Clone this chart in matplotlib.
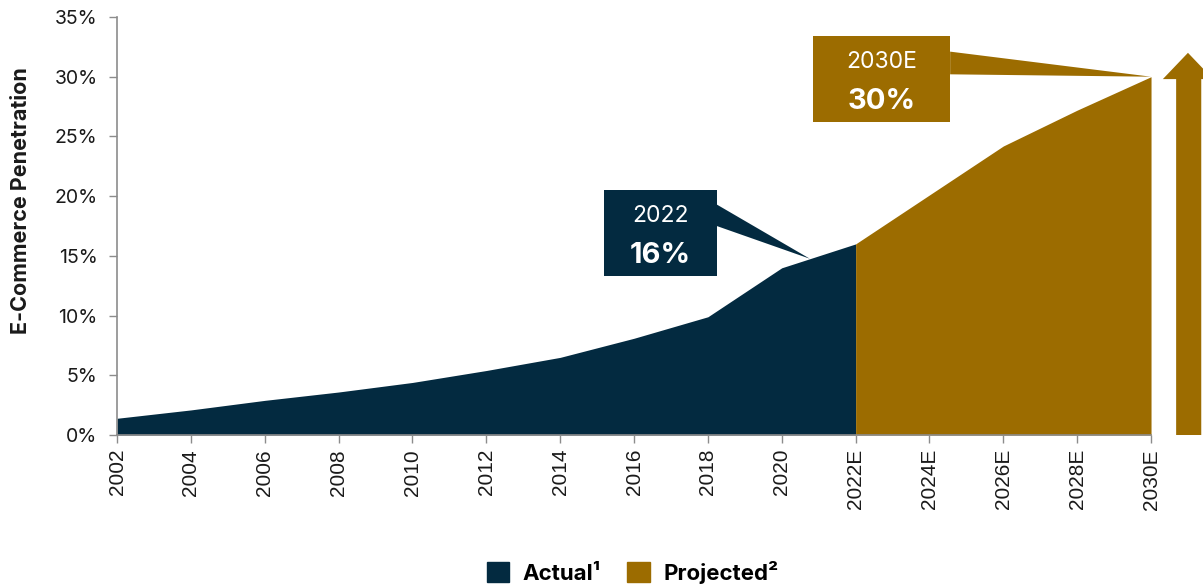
import numpy as np
import matplotlib
matplotlib.use("Agg")
import matplotlib.pyplot as plt
from matplotlib.patches import Patch, Polygon, Rectangle

# e-commerce penetration, % of retail sales
actual_years = ["2002", "2004", "2006", "2008", "2010", "2012", "2014", "2016", "2018", "2020", "2022E"]
actual_vals = [1.4, 2.1, 2.9, 3.6, 4.4, 5.4, 6.5, 8.1, 9.9, 14.0, 16.0]
proj_years = ["2022E", "2024E", "2026E", "2028E", "2030E"]
proj_vals = [16.0, 20.1, 24.2, 27.2, 30.0]
tick_labels = actual_years + proj_years[1:]

NAVY = "#032a40"
GOLD = "#9c6c00"
TEXT = "#1a1a1a"
AXIS = "#8c8c8c"

plt.rcParams["font.family"] = ["Inter", "DejaVu Sans"]

fig = plt.figure(figsize=(12.03, 5.88), dpi=100)
ax = fig.add_axes([0.0973, 0.2602, 0.8595, 0.7109])

xa = np.arange(len(actual_vals))
xp = np.arange(len(proj_vals)) + len(actual_vals) - 1
ax.fill_between(xa, actual_vals, color=NAVY, lw=0)
ax.fill_between(xp, proj_vals, color=GOLD, lw=0)

ax.set_xlim(0, len(tick_labels) - 1)
ax.set_ylim(0, 35)
ax.set_xticks(np.arange(len(tick_labels)))
ax.set_xticklabels(tick_labels, rotation=90, fontsize=15, color=TEXT,
                   family=["Liberation Sans", "DejaVu Sans"])
ax.set_yticks(range(0, 36, 5))
ax.set_yticklabels([f"{v}%" for v in range(0, 36, 5)], fontsize=14, color=TEXT)
ax.tick_params(axis="both", color=AXIS, length=6, width=1)
ax.tick_params(axis="x", pad=4)
ax.tick_params(axis="y", pad=8)
for side in ("top", "right"):
    ax.spines[side].set_visible(False)
for side in ("left", "bottom"):
    ax.spines[side].set_color(AXIS)
    ax.spines[side].set_linewidth(1.2)
ax.set_ylabel("E-Commerce Penetration", fontsize=15.5, fontweight="bold", color=TEXT)
ax.yaxis.set_label_coords(-0.083, 0.56)


def callout(x0, x1, y0, y1, base_top, base_bot, tip, color, label, value):
    ax.add_patch(Rectangle((x0, y1), x1 - x0, y0 - y1, color=color, lw=0, clip_on=False, zorder=5))
    ax.add_patch(Polygon([(x1, base_top), (x1, base_bot), tip], closed=True,
                         color=color, lw=0, clip_on=False, zorder=5))
    cx = (x0 + x1) / 2
    ax.text(cx, y0 - (y0 - y1) * 0.372, label, color="white", fontsize=16.5,
            ha="center", va="baseline", zorder=6)
    ax.text(cx, y0 - (y0 - y1) * 0.845, value, color="white", fontsize=21,
            fontweight="bold", ha="center", va="baseline", zorder=6)


# 2022 callout pointing at the actual curve just before 2022
tip_x = 9.38
tip_y = np.interp(tip_x, xa, actual_vals)
callout(6.59, 8.12, 20.5, 13.3, 19.3, 17.5, (tip_x, tip_y), NAVY, "2022", f"{actual_vals[-1]:.0f}%")

# 2030E callout pointing at the last projected value
callout(9.42, 11.28, 33.4, 26.2, 32.1, 30.2, (xp[-1], proj_vals[-1]), GOLD, "2030E", f"{proj_vals[-1]:.0f}%")

# growth arrow beside the axis
ax.add_patch(Polygon([(14.34, 0), (14.34, 29.8), (14.16, 29.8), (14.5, 32.0),
                      (14.84, 29.8), (14.68, 29.8), (14.68, 0)],
                     closed=True, color=GOLD, lw=0, clip_on=False))

handles = [Patch(color=NAVY, label="Actual¹"), Patch(color=GOLD, label="Projected²")]
fig.legend(handles=handles, loc="center", bbox_to_anchor=(0.526, 0.027), ncol=2, frameon=False,
           prop={"weight": "bold", "size": 16}, handlelength=1.0, handleheight=1.0,
           handletextpad=0.6, columnspacing=1.2, borderpad=0)

fig.savefig("out.png", dpi=100)
